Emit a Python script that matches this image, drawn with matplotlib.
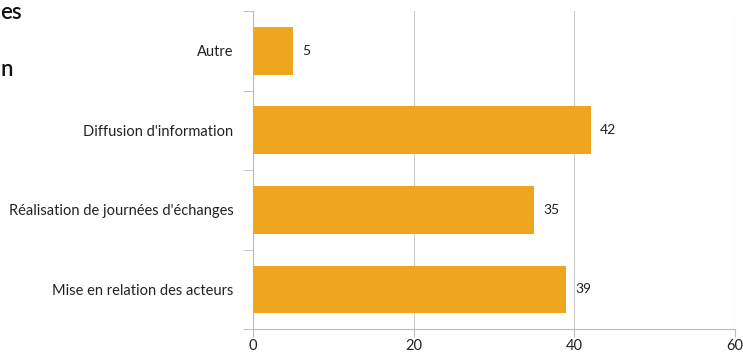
import matplotlib.pyplot as plt
from matplotlib.ticker import FixedLocator

categories = ['Autre', "Diffusion d'information",
              "Réalisation de journées d'échanges", 'Mise en relation des acteurs']
values = [5, 42, 35, 39]
xticks = [0, 20, 40, 60]

plt.rcParams['font.family'] = ['Lato', 'DejaVu Sans']

fig = plt.figure(figsize=(7.43, 3.54), dpi=100)
ax = fig.add_axes([0.3405, 0.07, 0.649, 0.899])

ypos = list(range(len(categories)))
ax.barh(ypos, values, height=0.6, color='#F0A51E', zorder=3)
for y, v in zip(ypos, values):
    ax.text(v + 1.1, y, str(v), va='center', ha='left', fontsize=10, color='#222222')

ax.set_xlim(0, 60)
ax.set_ylim(3.5, -0.5)
ax.set_xticks(xticks)
ax.set_xticklabels([str(t) for t in xticks], fontsize=10.5, color='#222222')
ax.set_yticks(ypos)
ax.set_yticklabels(categories, fontsize=10.5, color='#222222')
ax.yaxis.set_minor_locator(FixedLocator([-0.5, 0.5, 1.5, 2.5, 3.5]))
ax.tick_params(axis='y', which='major', length=0, pad=14)
ax.tick_params(axis='y', which='minor', length=7, color='#BBBBBB')
ax.tick_params(axis='x', length=6, color='#BBBBBB', pad=1)

ax.grid(axis='x', color='#CCCCCC', linewidth=0.8, zorder=0)
for s in ['top', 'right']:
    ax.spines[s].set_visible(False)
for s in ['left', 'bottom']:
    ax.spines[s].set_color('#BBBBBB')

fig.text(0.0, 0.995, 'es', fontsize=16, fontweight='semibold', color='#111111',
         va='top', ha='left')
fig.text(0.0, 0.805, 'n', fontsize=16, fontweight='semibold', color='#111111',
         va='center', ha='left')

fig.savefig('out.png', dpi=100)
